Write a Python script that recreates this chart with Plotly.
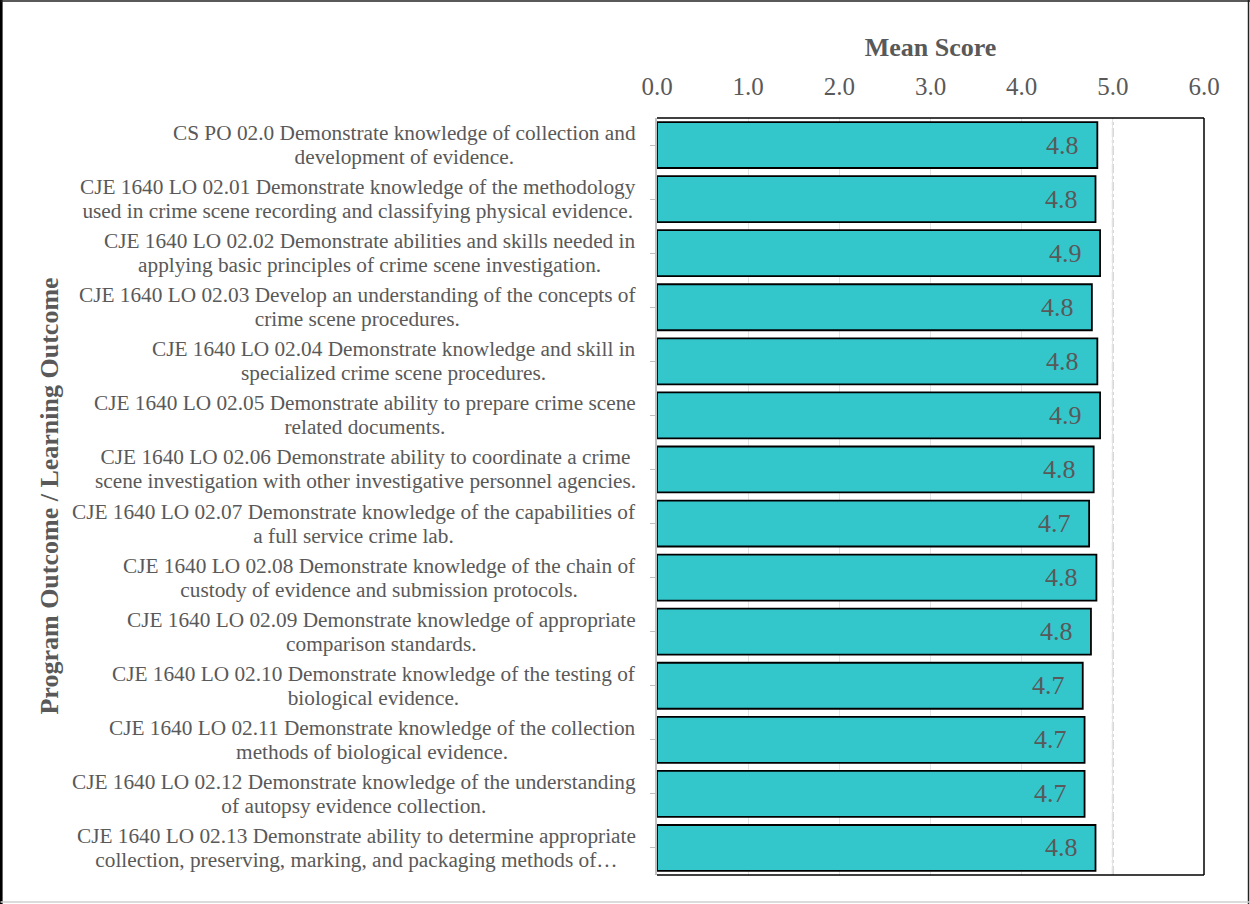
import plotly.graph_objects as go

categories = [
    "CS PO 02.0 Demonstrate knowledge of collection and<br>development of evidence.",
    "CJE 1640 LO 02.01 Demonstrate knowledge of the methodology<br>used in crime scene recording and classifying physical evidence.",
    "CJE 1640 LO 02.02 Demonstrate abilities and skills needed in<br>applying basic principles of crime scene investigation.",
    "CJE 1640 LO 02.03 Develop an understanding of the concepts of<br>crime scene procedures.",
    "CJE 1640 LO 02.04 Demonstrate knowledge and skill in<br>specialized crime scene procedures.",
    "CJE 1640 LO 02.05 Demonstrate ability to prepare crime scene<br>related documents.",
    "CJE 1640 LO 02.06 Demonstrate ability to coordinate a crime<br>scene investigation with other investigative personnel agencies.",
    "CJE 1640 LO 02.07 Demonstrate knowledge of the capabilities of<br>a full service crime lab.",
    "CJE 1640 LO 02.08 Demonstrate knowledge of the chain of<br>custody of evidence and submission protocols.",
    "CJE 1640 LO 02.09 Demonstrate knowledge of appropriate<br>comparison standards.",
    "CJE 1640 LO 02.10 Demonstrate knowledge of the testing of<br>biological evidence.",
    "CJE 1640 LO 02.11 Demonstrate knowledge of the collection<br>methods of biological evidence.",
    "CJE 1640 LO 02.12 Demonstrate knowledge of the understanding<br>of autopsy evidence collection.",
    "CJE 1640 LO 02.13 Demonstrate ability to determine appropriate<br>collection, preserving, marking, and packaging methods of…",
]
mean_scores = [4.83, 4.81, 4.86, 4.77, 4.83, 4.86, 4.79, 4.74, 4.82, 4.76, 4.67, 4.69, 4.69, 4.81]
x_ticks = [0, 1, 2, 3, 4, 5, 6]
x_tick_labels = ["0.0", "1.0", "2.0", "3.0", "4.0", "5.0", "6.0"]
reference_line = 5.0

cat_ids = list(range(len(categories)))
font_family = "Liberation Serif, Times New Roman, serif"
gray = "#595959"

fig = go.Figure()
fig.add_trace(go.Bar(
    x=mean_scores, y=cat_ids, orientation="h",
    marker=dict(color="#33C7CC", line=dict(color="#000000", width=1.8)),
    hoverinfo="skip", showlegend=False,
))

annotations = []
for i, (c, v) in enumerate(zip(categories, mean_scores)):
    lines = c.split("<br>")
    styled = "<br>".join(f'<span style="font-size:21.3px">{ln}</span>' for ln in lines)
    annotations.append(dict(
        x=-0.035, xref="paper", y=i, yref="y", text=styled, showarrow=False,
        xanchor="right", yanchor="middle", align="center",
        font=dict(family=font_family, size=18.5, color=gray),
    ))
    annotations.append(dict(
        x=v, xref="x", y=i, yref="y", text=f"{v:.1f}", showarrow=False,
        xanchor="right", yanchor="middle", xshift=-16,
        font=dict(family=font_family, size=26, color=gray),
    ))
annotations.append(dict(
    x=-1.1115, xref="paper", y=0.5, yref="paper", text="<b>Program Outcome / Learning Outcome</b>",
    showarrow=False, textangle=-90, xanchor="center", yanchor="middle",
    font=dict(family=font_family, size=26, color=gray),
))

shapes = [
    dict(type="line", xref="x", yref="paper", x0=reference_line, x1=reference_line, y0=0, y1=1,
         line=dict(color="#D0D0D0", width=2, dash="dashdot"), layer="below"),
    # plot area border (top, right, bottom)
    dict(type="line", xref="paper", yref="paper", x0=0, x1=1, y0=1, y1=1, line=dict(color="#000", width=1.5)),
    dict(type="line", xref="paper", yref="paper", x0=1, x1=1, y0=0, y1=1, line=dict(color="#000", width=1.5)),
    dict(type="line", xref="paper", yref="paper", x0=0, x1=1, y0=0, y1=0, line=dict(color="#000", width=1.5)),
    # outer figure border
    dict(type="line", xref="paper", yref="paper", x0=-1.2, x1=-1.2, y0=-0.04, y1=1.16, line=dict(color="#000", width=4)),
    dict(type="line", xref="paper", yref="paper", x0=-1.2, x1=1.1, y0=1.1545, y1=1.1545, line=dict(color="#222", width=1.5)),
    dict(type="line", xref="paper", yref="paper", x0=1.0814, x1=1.0814, y0=-0.04, y1=1.16, line=dict(color="#222", width=1.5)),
    dict(type="line", xref="paper", yref="paper", x0=-1.2, x1=1.1, y0=-0.0356, y1=-0.0356, line=dict(color="#D0D0D0", width=1.5)),
]

fig.update_layout(
    width=1250, height=904,
    margin=dict(l=657, r=46, t=118, b=29),
    paper_bgcolor="white", plot_bgcolor="white",
    bargap=0.15,
    font=dict(family=font_family, color=gray),
    annotations=annotations, shapes=shapes,
    xaxis=dict(
        side="top", range=[0, 6], tickvals=x_ticks, ticktext=x_tick_labels,
        tickfont=dict(family=font_family, size=25, color=gray),
        ticklabelstandoff=17,
        showgrid=True, gridcolor="#E4E4E4", gridwidth=1, zeroline=False,
        showline=False, ticks="",
        title=dict(text="<b>Mean Score</b>", font=dict(family=font_family, size=26, color=gray), standoff=8),
    ),
    yaxis=dict(
        range=[len(categories) - 0.5, -0.5], tickvals=cat_ids, showticklabels=False,
        tickson="boundaries", ticks="outside", ticklen=5, tickcolor="#BFBFBF",
        showline=True, linecolor="#BFBFBF", linewidth=2, showgrid=False, zeroline=False,
    ),
)

fig.write_html("out.html")
